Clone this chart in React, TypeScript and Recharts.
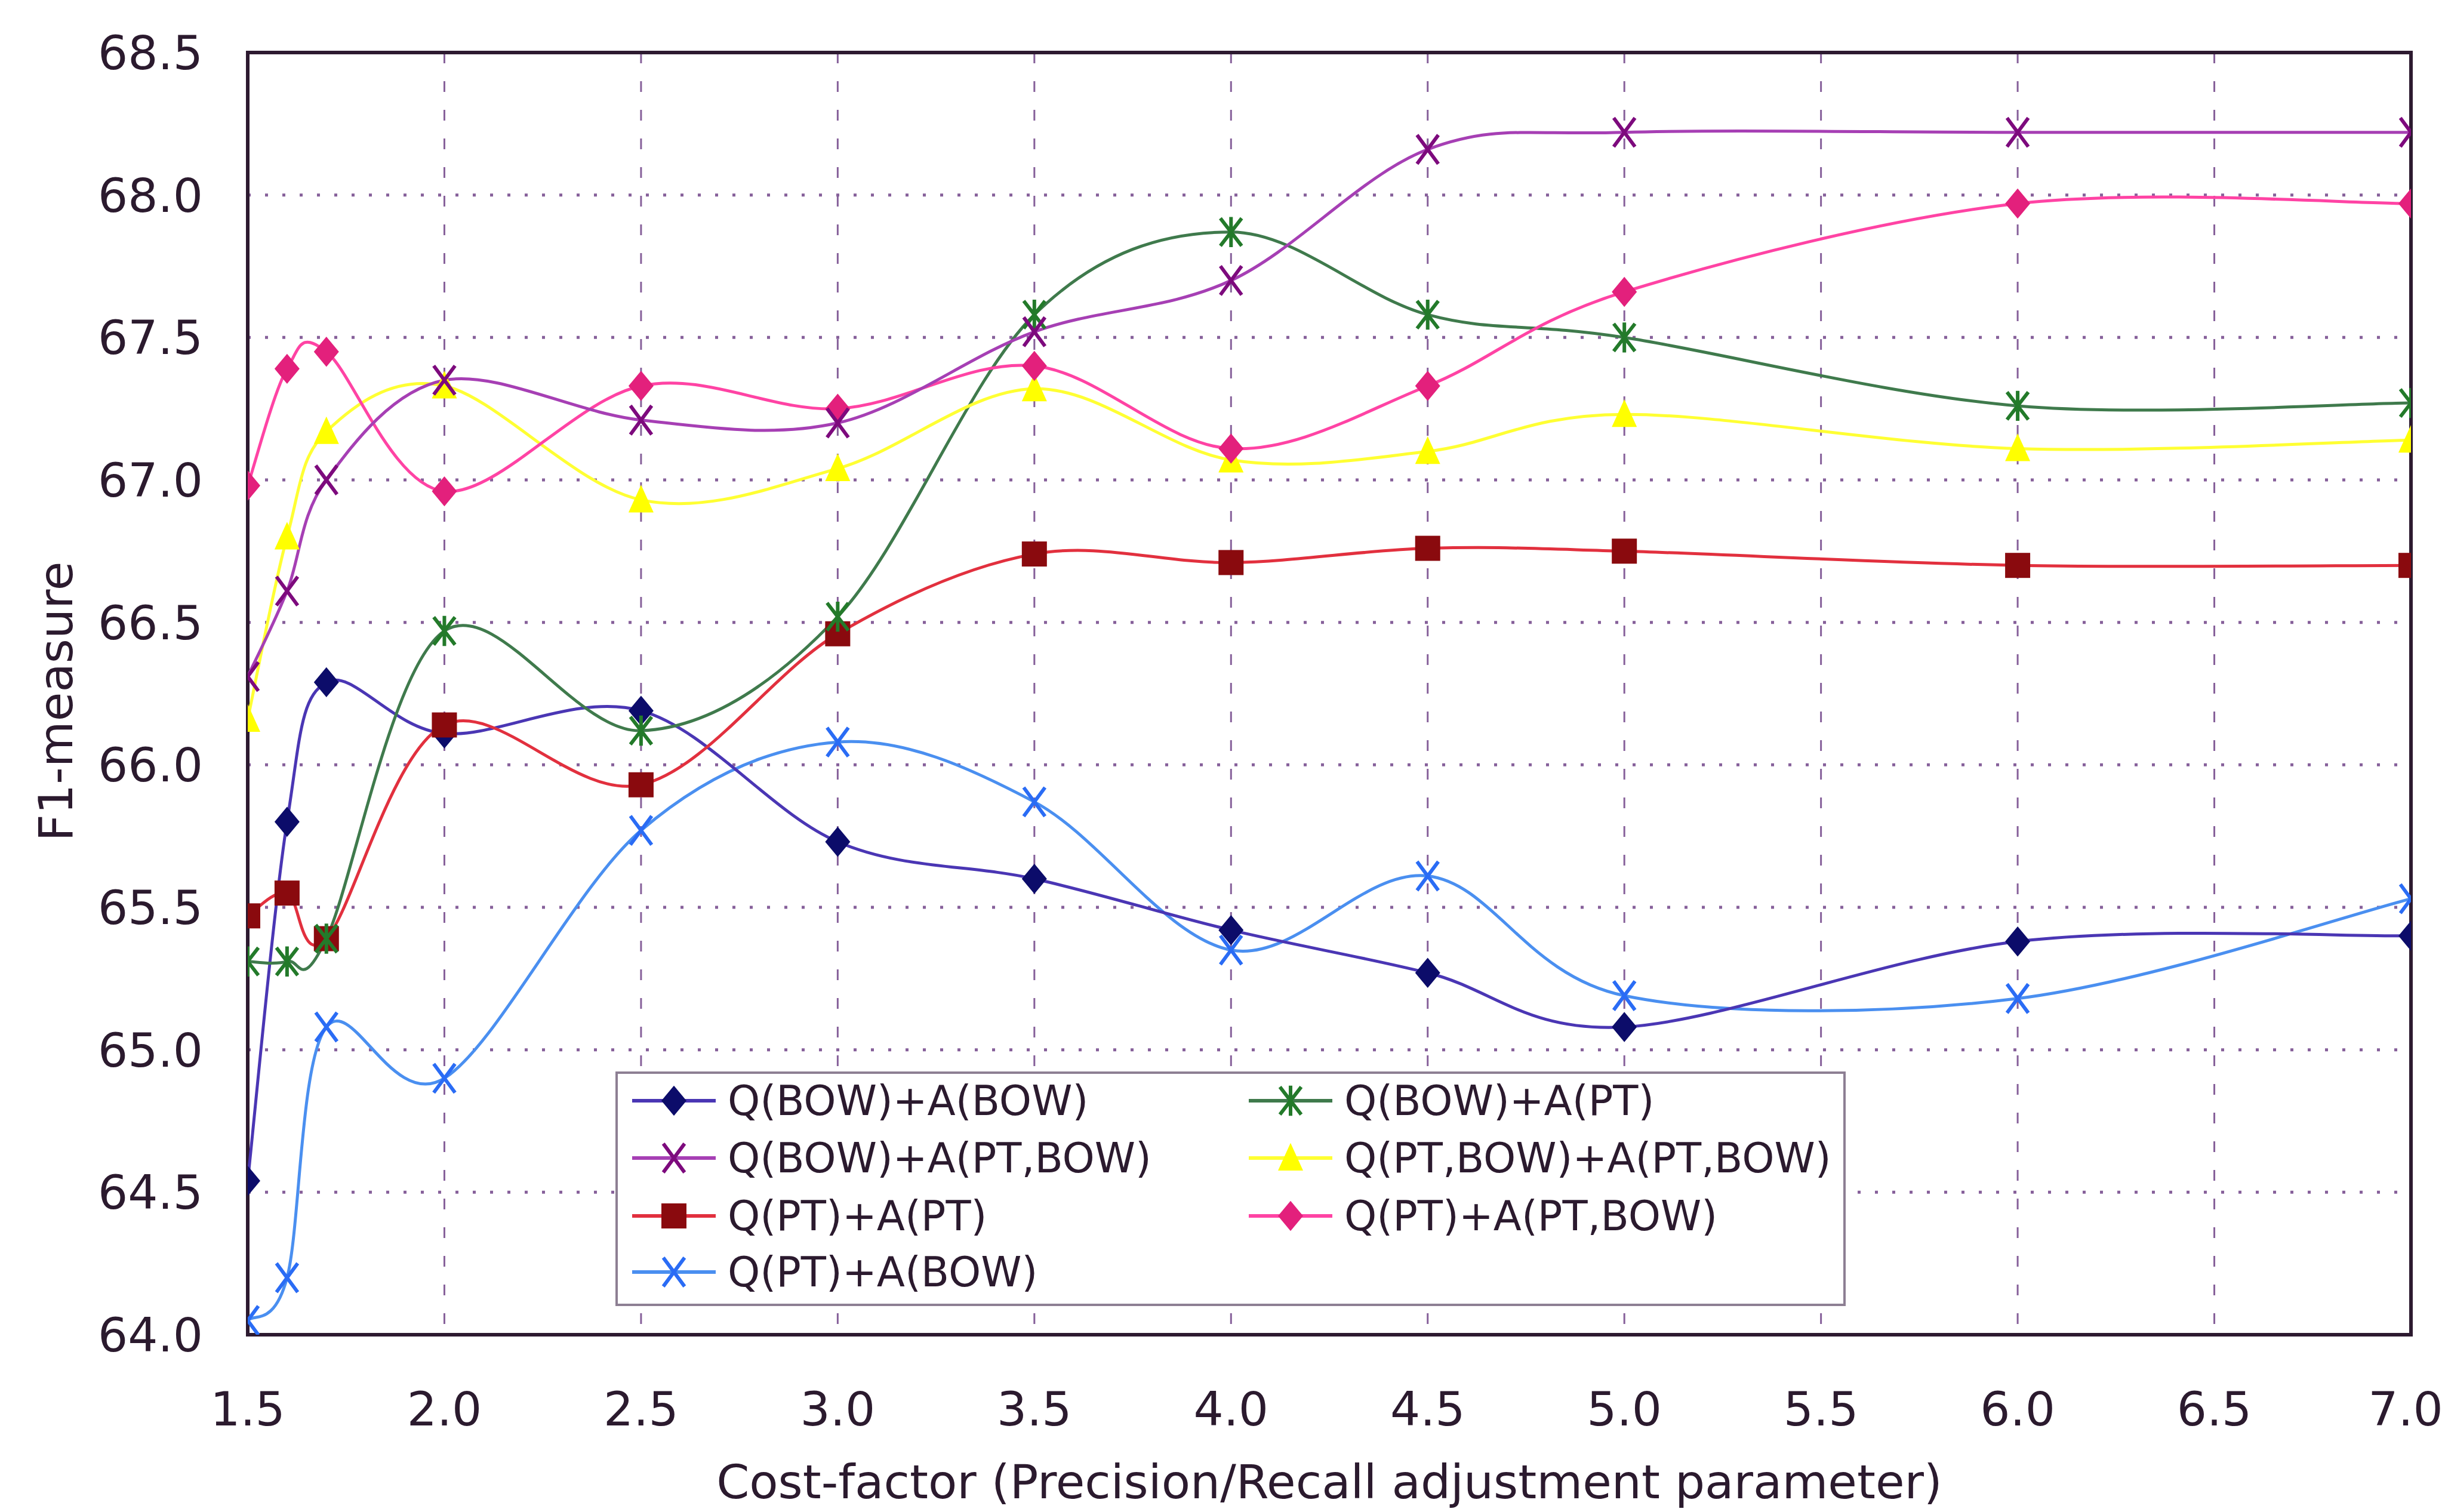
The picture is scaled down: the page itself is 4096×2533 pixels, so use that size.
import React from 'react';
import {
  LineChart,
  Line,
  XAxis,
  YAxis,
  CartesianGrid,
  ReferenceArea,
  Legend,
  Label,
} from 'recharts';

// cost factor values on the x axis
const COST_FACTORS = [1.5, 1.6, 1.7, 2.0, 2.5, 3.0, 3.5, 4.0, 4.5, 5.0, 6.0, 7.0];

// F1-measure per configuration
const BOW_BOW = [64.54, 65.8, 66.29, 66.11, 66.19, 65.73, 65.6, 65.42, 65.27, 65.08, 65.38, 65.4];
const BOW_PT = [65.31, 65.31, 65.39, 66.47, 66.12, 66.52, 67.58, 67.87, 67.58, 67.5, 67.26, 67.27];
const BOW_PTBOW = [66.31, 66.61, 67.0, 67.35, 67.21, 67.2, 67.52, 67.7, 68.16, 68.22, 68.22, 68.22];
const PTBOW_PTBOW = [66.16, 66.8, 67.17, 67.33, 66.93, 67.04, 67.32, 67.07, 67.1, 67.23, 67.11, 67.14];
const PT_PT = [65.47, 65.55, 65.39, 66.14, 65.93, 66.46, 66.74, 66.71, 66.76, 66.75, 66.7, 66.7];
const PT_PTBOW = [66.98, 67.39, 67.45, 66.96, 67.33, 67.25, 67.4, 67.11, 67.33, 67.66, 67.97, 67.97];
const PT_BOW = [64.05, 64.2, 65.08, 64.9, 65.77, 66.08, 65.87, 65.35, 65.61, 65.19, 65.18, 65.53];

const X_TICKS = [1.5, 2.0, 2.5, 3.0, 3.5, 4.0, 4.5, 5.0, 5.5, 6.0, 6.5, 7.0];
const Y_TICKS = [64.0, 64.5, 65.0, 65.5, 66.0, 66.5, 67.0, 67.5, 68.0, 68.5];

const FONT = '"DejaVu Sans", Verdana, sans-serif';
const TEXT = '#2b1a2e';
const CHART_W = 4096;

type Shape = 'diamond' | 'star' | 'x' | 'triangle' | 'square';

interface Series {
  key: string;
  name: string;
  values: number[];
  line: string;
  marker: string;
  shape: Shape;
}

const SERIES: Series[] = [
  { key: 'ptBow', name: 'Q(PT)+A(BOW)', values: PT_BOW, line: '#4a8ff0', marker: '#2a6cf5', shape: 'x' },
  { key: 'bowBow', name: 'Q(BOW)+A(BOW)', values: BOW_BOW, line: '#4a36b4', marker: '#0c0c6a', shape: 'diamond' },
  { key: 'ptPt', name: 'Q(PT)+A(PT)', values: PT_PT, line: '#e2303e', marker: '#8a0a0e', shape: 'square' },
  { key: 'bowPt', name: 'Q(BOW)+A(PT)', values: BOW_PT, line: '#3f7a4c', marker: '#237a2a', shape: 'star' },
  { key: 'ptbowPtbow', name: 'Q(PT,BOW)+A(PT,BOW)', values: PTBOW_PTBOW, line: '#ffff33', marker: '#ffff00', shape: 'triangle' },
  { key: 'ptPtbow', name: 'Q(PT)+A(PT,BOW)', values: PT_PTBOW, line: '#ff43a4', marker: '#e3207c', shape: 'diamond' },
  { key: 'bowPtbow', name: 'Q(BOW)+A(PT,BOW)', values: BOW_PTBOW, line: '#a63fb4', marker: '#7d0a7d', shape: 'x' },
];

// legend order, two columns as in the figure
const LEGEND_COL1 = ['bowBow', 'bowPtbow', 'ptPt', 'ptBow'];
const LEGEND_COL2 = ['bowPt', 'ptbowPtbow', 'ptPtbow'];

const DATA = COST_FACTORS.map((x, i) => {
  const row: Record<string, number> = { x };
  SERIES.forEach(s => {
    row[s.key] = s.values[i];
  });
  return row;
});

// smooth curve like the spreadsheet "smoothed line" (catmull-rom through the points)
const smoothCurve = (context: any) => {
  let pts: [number, number][] = [];
  return {
    areaStart() {},
    areaEnd() {},
    lineStart() {
      pts = [];
    },
    point(x: number, y: number) {
      pts.push([+x, +y]);
    },
    lineEnd() {
      if (!pts.length) return;
      context.moveTo(pts[0][0], pts[0][1]);
      for (let i = 0; i < pts.length - 1; i++) {
        const p0 = pts[i - 1] || pts[i];
        const p1 = pts[i];
        const p2 = pts[i + 1];
        const p3 = pts[i + 2] || p2;
        context.bezierCurveTo(
          p1[0] + (p2[0] - p0[0]) / 6,
          p1[1] + (p2[1] - p0[1]) / 6,
          p2[0] - (p3[0] - p1[0]) / 6,
          p2[1] - (p3[1] - p1[1]) / 6,
          p2[0],
          p2[1]
        );
      }
    },
  };
};

function Marker({ shape, cx, cy, color }: { shape: Shape; cx: number; cy: number; color: string }) {
  const s = 21;
  switch (shape) {
    case 'diamond':
      return (
        <polygon
          points={`${cx},${cy - s * 1.2} ${cx + s},${cy} ${cx},${cy + s * 1.2} ${cx - s},${cy}`}
          fill={color}
        />
      );
    case 'square':
      return <rect x={cx - s} y={cy - s} width={2 * s} height={2 * s} fill={color} />;
    case 'triangle':
      return (
        <polygon
          points={`${cx},${cy - s * 1.2} ${cx + s},${cy + s} ${cx - s},${cy + s}`}
          fill={color}
        />
      );
    case 'x':
      return (
        <path
          d={`M${cx - s * 0.85},${cy - s * 1.15}L${cx + s * 0.85},${cy + s * 1.15}M${cx - s * 0.85},${cy + s * 1.15}L${cx + s * 0.85},${cy - s * 1.15}`}
          stroke={color}
          strokeWidth={6}
          fill="none"
        />
      );
    case 'star':
      return (
        <path
          d={`M${cx - s * 0.85},${cy - s * 1.1}L${cx + s * 0.85},${cy + s * 1.1}M${cx - s * 0.85},${cy + s * 1.1}L${cx + s * 0.85},${cy - s * 1.1}M${cx},${cy - s * 1.2}L${cx},${cy + s * 1.2}`}
          stroke={color}
          strokeWidth={6}
          fill="none"
        />
      );
    default:
      return null;
  }
}

const LEGEND_ROWS = [45, 141, 238, 332];

function LegendBox() {
  const entry = (key: string, col: number, row: number) => {
    const s = SERIES.find(item => item.key === key)!;
    return (
      <div
        key={key}
        style={{
          position: 'absolute',
          left: col === 0 ? 24 : 1057,
          top: LEGEND_ROWS[row] - 50,
          height: 100,
          display: 'flex',
          alignItems: 'center',
          whiteSpace: 'nowrap',
        }}
      >
        <svg width={140} height={100} style={{ display: 'block' }}>
          <line x1={0} y1={50} x2={140} y2={50} stroke={s.line} strokeWidth={6} />
          <Marker shape={s.shape} cx={70} cy={50} color={s.marker} />
        </svg>
        <span style={{ marginLeft: 20, fontSize: 69, fontFamily: FONT, color: TEXT, lineHeight: 1 }}>
          {s.name}
        </span>
      </div>
    );
  };
  return (
    <div
      style={{
        position: 'relative',
        width: 2061,
        height: 393,
        boxSizing: 'border-box',
        border: '4px solid #8d7f93',
        background: '#ffffff',
      }}
    >
      {LEGEND_COL1.map((k, i) => entry(k, 0, i))}
      {LEGEND_COL2.map((k, i) => entry(k, 1, i))}
    </div>
  );
}

// x tick: keep the last label inside the window
function XTick(props: any) {
  const { x, y, payload } = props;
  const label = Number(payload.value).toFixed(1);
  const half = 64;
  const tx = Math.min(x, CHART_W - half - 2);
  return (
    <text x={tx} y={y} dy="0.71em" textAnchor="middle" fontFamily={FONT} fontSize={79} fill={TEXT}>
      {label}
    </text>
  );
}

export default function App() {
  const tickStyle = { fontFamily: FONT, fontSize: 79, fill: TEXT };
  return (
    <div style={{ position: 'absolute', left: 0, top: 0, background: '#fff' }}>
      <LineChart
        width={CHART_W}
        height={2533}
        data={DATA}
        margin={{ top: 88, right: 57, bottom: 0, left: 0 }}
      >
        <CartesianGrid
          vertical={false}
          stroke="#86609a"
          strokeWidth={5}
          strokeDasharray="5 24"
        />
        <CartesianGrid
          horizontal={false}
          stroke="#86609a"
          strokeWidth={3}
          strokeDasharray="18 30"
        />
        <XAxis
          dataKey="x"
          type="number"
          domain={[1.5, 7]}
          ticks={X_TICKS}
          allowDataOverflow
          height={297}
          axisLine={false}
          tickLine={false}
          tickSize={0}
          tickMargin={96}
          tick={<XTick />}
        >
          <Label
            value="Cost-factor (Precision/Recall adjustment parameter)"
            position="insideBottom"
            offset={23}
            style={{ fontFamily: FONT, fontSize: 79, fill: TEXT }}
          />
        </XAxis>
        <YAxis
          type="number"
          domain={[64, 68.5]}
          ticks={Y_TICKS}
          allowDataOverflow
          width={415}
          axisLine={false}
          tickLine={false}
          tickSize={0}
          tickMargin={75}
          tick={tickStyle}
          tickFormatter={(v: number) => v.toFixed(1)}
        >
          <Label
            content={(props: any) => {
              const vb = props.viewBox || { x: 0, y: 88, height: 2148 };
              const x = 121;
              const y = vb.y + vb.height / 2 + 13;
              return (
                <text
                  x={x}
                  y={y}
                  transform={`rotate(-90 ${x} ${y})`}
                  textAnchor="middle"
                  fontFamily={FONT}
                  fontSize={79}
                  fill={TEXT}
                >
                  F1-measure
                </text>
              );
            }}
          />
        </YAxis>
        <ReferenceArea
          x1={1.5}
          x2={7}
          y1={64}
          y2={68.5}
          fill="none"
          stroke="#2d1a30"
          strokeWidth={6}
          ifOverflow="visible"
        />
        {SERIES.map(s => (
          <Line
            key={s.key}
            dataKey={s.key}
            name={s.name}
            type={smoothCurve as any}
            stroke={s.line}
            strokeWidth={5}
            isAnimationActive={false}
            dot={(p: any) => (
              <Marker
                key={`${s.key}-${p.index}`}
                shape={s.shape}
                cx={p.cx}
                cy={p.cy}
                color={s.marker}
              />
            )}
            activeDot={false}
          />
        ))}
        <Legend
          layout="vertical"
          align="center"
          verticalAlign="middle"
          content={() => <LegendBox />}
          wrapperStyle={{ left: 1031, top: 1795, width: 2061, height: 393 }}
        />
      </LineChart>
    </div>
  );
}
